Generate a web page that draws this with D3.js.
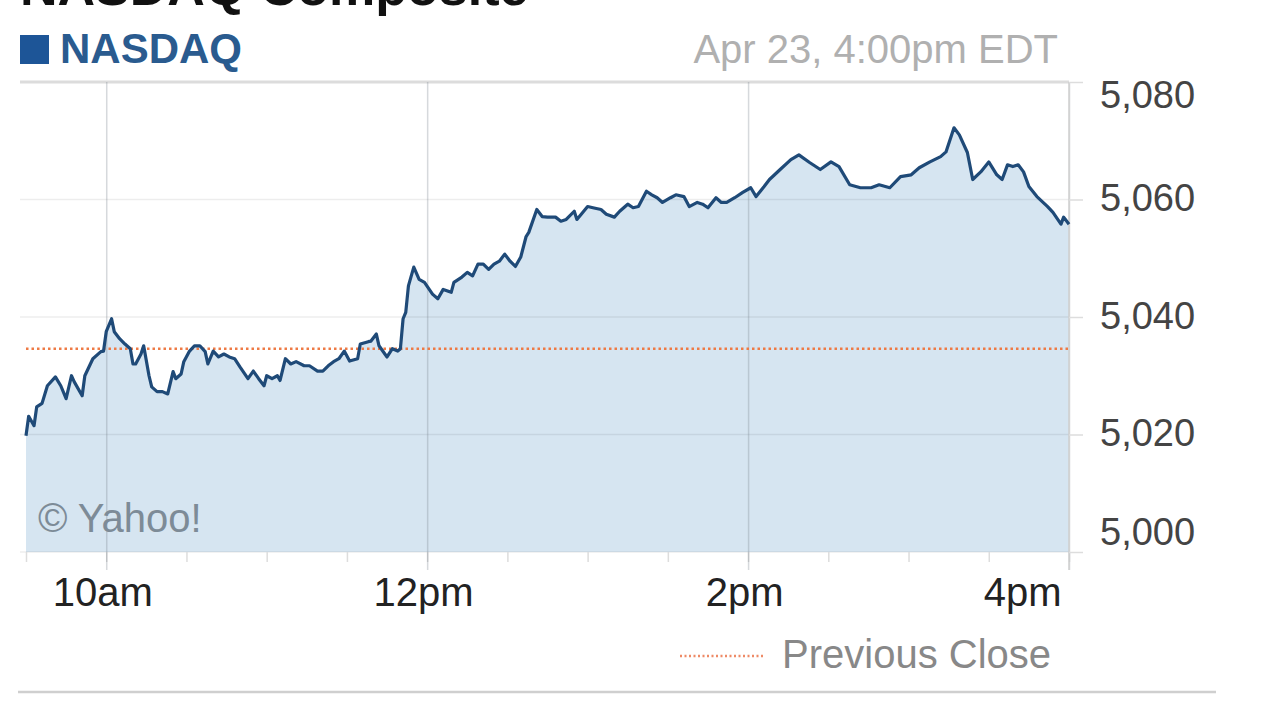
<!DOCTYPE html>
<html>
<head>
<meta charset="utf-8">
<script src="https://cdn.jsdelivr.net/npm/d3@7/dist/d3.min.js"></script>
<style>
  body { margin: 0; background: #fff; }
  text { font-family: "Liberation Sans", Arial, Helvetica, sans-serif; }
</style>
</head>
<body>
<svg id="chart" width="1280" height="720"></svg>
<script>

// Intraday NASDAQ, Apr 23 - minutes after the 9:30am open
var minutesFromOpen = [
    0, 1, 3, 4, 6, 8, 11, 13, 15, 17, 18, 21, 22, 25, 28, 29,
    30, 32, 33, 35, 37, 39, 40, 41, 43, 44, 46, 47, 49, 51, 53, 55, 56, 58, 59,
    61, 63, 65, 67, 68, 70, 72, 74, 76, 78, 80, 83, 85, 87, 89,
    90, 92, 94, 95, 97, 99, 101, 104, 106, 109, 111, 113, 115, 117, 119,
    121, 124, 125, 128, 129, 131, 132, 135, 137, 139, 140, 141, 142, 143, 145, 147, 149,
    152, 154, 156, 159, 160, 163, 165, 167, 169, 171, 173, 175, 177, 179,
    181, 183, 185, 187, 188, 191, 193, 195, 198, 200, 202, 205, 206, 210,
    212, 215, 217, 220, 222, 225, 227, 229, 232, 234, 236, 238,
    241, 243, 246, 248, 251, 253, 255, 258, 260, 262, 265, 268,
    271, 273, 276, 278, 282, 286, 289, 293, 297,
    301, 304, 308, 312, 316, 319, 323, 327, 331, 334, 338, 342, 344, 347, 349,
    352, 354, 357, 360, 363, 365, 367, 369, 371, 373, 375, 378, 382, 384, 387, 388, 390
]

var nasdaq = [
    5019.8, 5023.1, 5021.5, 5024.7, 5025.3, 5028.3, 5029.8, 5028.3, 5026.1, 5030.0, 5029.0, 5026.6, 5030.0, 5032.9, 5034.1, 5034.2,
    5037.5, 5039.7, 5037.5, 5036.3, 5035.4, 5034.6, 5032.0, 5032.0, 5033.7, 5035.1, 5030.0, 5028.1, 5027.3, 5027.3, 5026.9, 5030.7, 5029.5, 5030.3, 5032.4,
    5034.1, 5035.1, 5035.1, 5034.1, 5032.0, 5034.2, 5033.2, 5033.7, 5033.2, 5032.9, 5031.5, 5029.5, 5030.8, 5029.5, 5028.3,
    5030.0, 5029.5, 5030.0, 5029.2, 5032.9, 5032.0, 5032.4, 5031.7, 5031.7, 5030.8, 5030.8, 5031.7, 5032.4, 5032.9, 5034.2,
    5032.5, 5032.9, 5035.4, 5035.8, 5035.9, 5037.1, 5035.1, 5033.2, 5034.6, 5034.2, 5034.6, 5039.7, 5040.8, 5045.3, 5048.5, 5046.4, 5045.9,
    5043.9, 5043.1, 5044.7, 5044.2, 5045.9, 5046.8, 5047.6, 5047.0, 5049.0, 5049.0, 5048.1, 5049.0, 5049.5, 5050.7,
    5049.5, 5048.6, 5050.2, 5053.7, 5054.4, 5058.3, 5057.1, 5057.0, 5057.0, 5056.3, 5056.6, 5058.0, 5056.6, 5058.8,
    5058.6, 5058.3, 5057.5, 5057.0, 5058.0, 5059.2, 5058.6, 5058.8, 5061.4, 5060.8, 5060.3, 5059.5,
    5060.3, 5060.8, 5060.5, 5058.8, 5059.5, 5059.2, 5058.6, 5060.3, 5059.5, 5059.5, 5060.3, 5061.2,
    5062.0, 5060.5, 5062.2, 5063.4, 5065.1, 5066.8, 5067.6, 5066.3, 5065.1,
    5066.4, 5065.6, 5062.5, 5062.0, 5062.0, 5062.5, 5062.0, 5063.9, 5064.2, 5065.4, 5066.4, 5067.3, 5068.1, 5072.2, 5071.0,
    5068.0, 5063.4, 5064.7, 5066.4, 5064.2, 5063.4, 5065.9, 5065.6, 5065.9, 5064.7, 5062.2, 5060.5, 5058.8, 5057.8, 5055.8, 5057.0, 5055.8
]

var prevClose = 5034.6
var yTicks = [5000, 5020, 5040, 5060, 5080]
var xTickTimes = ["10:00", "12:00", "14:00", "16:00"]
var xTickLabels = ["10am", "12pm", "2pm", "4pm"]

var openTime = new Date(2015, 3, 23, 9, 30)
var parseHM = d3.timeParse("%Y-%m-%d %H:%M")

var dat = minutesFromOpen.map(function (m, i) {
    return { t: d3.timeMinute.offset(openTime, m), v: nasdaq[i] }
})
var majorTicks = xTickTimes.map(function (s) { return parseHM("2015-04-23 " + s) })

// Plot box
var plotL = 26, plotR = 1069, plotT = 82, plotB = 552

var scale_x = d3.scaleTime()
    .domain([openTime, new Date(2015, 3, 23, 16, 0)])
    .range([plotL, plotR])

var scale_y = d3.scaleLinear()
    .domain([5000, 5080])
    .range([plotB, plotT])

var svg = d3.select("#chart")

svg.append("rect").attr("width", 1280).attr("height", 720).attr("fill", "#fff")

// Title (cut off at the top of the frame)
svg.append("text")
    .attr("x", 20).attr("y", 5)
    .attr("font-size", 52).attr("font-weight", "bold").attr("fill", "#111")
    .text("NASDAQ Composite")

// Series label + timestamp
svg.append("rect")
    .attr("x", 20).attr("y", 35).attr("width", 29).attr("height", 29)
    .attr("fill", "#1d5597")

svg.append("text")
    .attr("x", 60).attr("y", 63)
    .attr("font-size", 42).attr("font-weight", "bold").attr("fill", "#2a5b8f")
    .text("NASDAQ")

svg.append("text")
    .attr("x", 1058).attr("y", 63)
    .attr("text-anchor", "end")
    .attr("font-size", 40).attr("fill", "#b0b0b0")
    .text("Apr 23, 4:00pm EDT")

// Area under the price line
var area = d3.area()
    .x(d => scale_x(d.t))
    .y0(plotB)
    .y1(d => scale_y(d.v))

svg.append("path")
    .datum(dat)
    .attr("d", area)
    .attr("fill", "#d6e5f1")

// Horizontal grid
svg.append("g")
    .selectAll("line")
    .data(yTicks)
    .enter()
    .append("line")
    .attr("x1", 20).attr("x2", plotR)
    .attr("y1", d => scale_y(d)).attr("y2", d => scale_y(d))
    .attr("stroke", d => d == 5080 ? "#dcdcdc" : "rgba(0,0,0,0.07)")
    .attr("stroke-width", d => d == 5080 ? 3 : 1.5)

// Half-hour minor ticks
svg.append("g")
    .attr("transform", "translate(0," + plotB + ")")
    .call(d3.axisBottom(scale_x).ticks(d3.timeMinute.every(30)).tickSize(10).tickFormat(""))
    .call(g => g.select(".domain").remove())
    .call(g => g.selectAll("line").attr("stroke", "#ddd").attr("stroke-width", 1.5))

// Major hour lines + labels
var axisX = svg.append("g")
    .attr("transform", "translate(0," + plotB + ")")
    .call(d3.axisBottom(scale_x)
        .tickValues(majorTicks)
        .tickSize(18)
        .tickPadding(8)
        .tickFormat((d, i) => xTickLabels[i]))
axisX.select(".domain").remove()
axisX.selectAll("line")
    .attr("y1", plotT - plotB)
    .attr("stroke", "rgba(120,130,140,0.3)")
    .attr("stroke-width", 1.5)
axisX.selectAll("text")
    .attr("font-size", 40).attr("fill", "#222")
    .attr("font-family", "Liberation Sans, Arial, sans-serif")
    .attr("dx", -4)
axisX.selectAll(".tick:last-of-type text")
    .attr("text-anchor", "end").attr("dx", -8)

// Right value axis
var axisY = svg.append("g")
    .attr("transform", "translate(" + plotR + ",0)")
    .call(d3.axisRight(scale_y)
        .tickValues(yTicks)
        .tickSize(14)
        .tickPadding(17)
        .tickFormat(d3.format(",")))
axisY.select(".domain")
    .attr("d", "M0," + plotT + "V" + (plotB + 18))
    .attr("stroke", "#d0d0d0").attr("stroke-width", 1.5)
axisY.selectAll("line").attr("stroke", "#ddd").attr("stroke-width", 1.5)
axisY.selectAll("text")
    .attr("font-size", 38).attr("fill", "#444")
    .attr("font-family", "Liberation Sans, Arial, sans-serif")
    .attr("dy", d => d == 5080 ? "0.66em" : d == 5000 ? "-0.2em" : "0.3em")

// Previous close
svg.append("line")
    .attr("x1", plotL).attr("x2", plotR)
    .attr("y1", scale_y(prevClose)).attr("y2", scale_y(prevClose))
    .attr("stroke", "#ee7a45").attr("stroke-width", 2.5)
    .attr("stroke-dasharray", "2.5,3")

// Price line
var line = d3.line()
    .x(d => scale_x(d.t))
    .y(d => scale_y(d.v))

svg.append("path")
    .datum(dat)
    .attr("d", line)
    .attr("fill", "none")
    .attr("stroke", "#1f4a78")
    .attr("stroke-width", 3.2)
    .attr("stroke-linejoin", "round")

// Watermark
svg.append("text")
    .attr("x", 38).attr("y", 532)
    .attr("font-size", 40).attr("fill", "#7d8b97")
    .text("\u00a9 Yahoo!")

// Legend
svg.append("line")
    .attr("x1", 680).attr("x2", 764)
    .attr("y1", 656).attr("y2", 656)
    .attr("stroke", "#ee8a66").attr("stroke-width", 2.5)
    .attr("stroke-dasharray", "2,2.5")

svg.append("text")
    .attr("x", 782).attr("y", 668)
    .attr("font-size", 40).attr("fill", "#888")
    .text("Previous Close")

// Footer rule
svg.append("line")
    .attr("x1", 18).attr("x2", 1216)
    .attr("y1", 692).attr("y2", 692)
    .attr("stroke", "#cfcfcf").attr("stroke-width", 2.5)

</script>
</body>
</html>
